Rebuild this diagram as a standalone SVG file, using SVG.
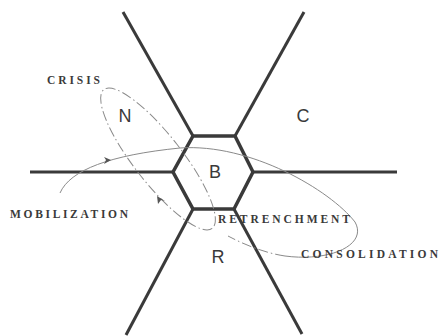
<svg xmlns="http://www.w3.org/2000/svg" width="440" height="336" viewBox="0 0 440 336">
<style>
.ln{stroke:#3a3a3a;stroke-width:3;fill:none;stroke-linecap:butt;stroke-linejoin:miter}
.cyc{stroke:#8a8a8a;stroke-width:1;fill:none}
.dd{stroke-dasharray:10 3 1.5 3}
.lab{font-family:"Liberation Sans",Arial,sans-serif;font-size:18px;fill:#3a3a3a;text-anchor:middle}
.phase{font-family:"Liberation Serif","Times New Roman",serif;font-weight:bold;font-size:11.5px;fill:#3a3a3a}
</style>
<rect width="440" height="336" fill="#fff"/>
<g id="connectors">
  <line class="ln" x1="193" y1="136" x2="123" y2="12"/>
  <line class="ln" x1="235" y1="136" x2="304" y2="12"/>
  <line class="ln" x1="173" y1="172" x2="30" y2="172"/>
  <line class="ln" x1="253" y1="172" x2="397" y2="172"/>
  <line class="ln" x1="193" y1="209" x2="126" y2="335"/>
  <line class="ln" x1="234" y1="209" x2="302" y2="334"/>
</g>
<g id="B">
  <polygon class="ln" style="stroke-width:3.5" points="193,136 235,136 253,172 234,209 193,209 173,172"/>
  <text class="lab" x="215" y="178">B</text>
</g>
<g id="N"><text class="lab" x="125" y="122">N</text></g>
<g id="C"><text class="lab" x="303" y="122">C</text></g>
<g id="R"><text class="lab" x="218" y="263">R</text></g>
<g id="cycles">
  <ellipse class="cyc dd" cx="158" cy="159" rx="88" ry="24" transform="rotate(52 158 159)"/>
  <path class="cyc" d="M 60 193 C 70 170, 110 155, 180 148 C 250 143, 330 190, 355 222 C 368 245, 330 262, 285 256"/>
  <path class="cyc dd" d="M 285 256 C 265 253, 245 245, 228 236"/>
  <path d="M104 157 L111 160 L104 164 L106 160 Z" fill="#555"/>
  <path d="M157 196 L158 204 L161 200 L165 201 Z" fill="#555"/>
</g>
<g id="labels">
  <text class="phase" x="47" y="84" textLength="53" lengthAdjust="spacing">CRISIS</text>
  <text class="phase" x="10" y="218" textLength="118" lengthAdjust="spacing">MOBILIZATION</text>
  <text class="phase" x="218" y="223" textLength="132" lengthAdjust="spacing">RETRENCHMENT</text>
  <text class="phase" x="301" y="258" textLength="137" lengthAdjust="spacing">CONSOLIDATION</text>
</g>
</svg>
